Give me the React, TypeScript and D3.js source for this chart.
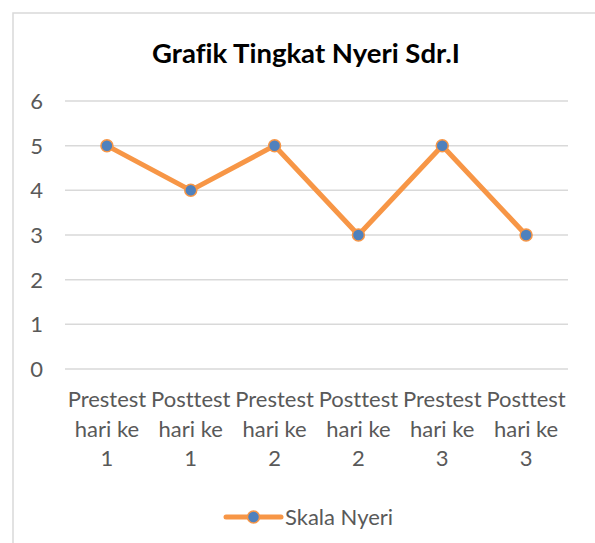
import { line, scaleLinear, scalePoint } from 'd3'

const categories = [
  'Prestest hari ke 1',
  'Posttest hari ke 1',
  'Prestest hari ke 2',
  'Posttest hari ke 2',
  'Prestest hari ke 3',
  'Posttest hari ke 3',
]

const skalaNyeri = [5, 4, 5, 3, 5, 3]

const yTicks = [0, 1, 2, 3, 4, 5, 6]

const chartTitle = 'Grafik Tingkat Nyeri Sdr.I'
const seriesName = 'Skala Nyeri'

const width = 595
const height = 543

const plot = {
  left: 65,
  right: 568,
  top: 101,
  bottom: 369,
}

const fontFamily = 'Lato, Calibri, Carlito, sans-serif'
const textColor = '#595959'
const gridColor = '#d9d9d9'
const lineColor = '#f79646'
const markerColor = '#4f81bd'

// "Prestest hari ke 1" -> ["Prestest", "hari ke", "1"]
function splitLabel(label: string) {
  const words = label.split(' ')
  return [words[0], words.slice(1, -1).join(' '), words[words.length - 1]]
}

function App() {
  const xScale = scalePoint<string>()
    .domain(categories)
    .range([plot.left, plot.right])
    .padding(0.5)

  const yScale = scaleLinear().domain([0, 6]).range([plot.bottom, plot.top])

  const points = categories.map((category, i) => ({
    category,
    value: skalaNyeri[i],
  }))

  const linePath = line<{ category: string; value: number }>()
    .x((d) => xScale(d.category) ?? 0)
    .y((d) => yScale(d.value))(points)

  const legendX = 226
  const legendY = 517

  return (
    <svg
      width={width}
      height={height}
      viewBox={`0 0 ${width} ${height}`}
      style={{
        position: 'absolute',
        left: 0,
        top: 0,
        background: '#fff',
        fontVariantLigatures: 'none',
      }}
      fontFamily={fontFamily}
    >
      <rect x={0} y={0} width={width} height={height} fill="#fff" />
      <rect
        x={13}
        y={13}
        width={width + 20}
        height={height + 20}
        fill="#fff"
        stroke={gridColor}
        strokeWidth={1.5}
      />

      <text
        x={306}
        y={63}
        textAnchor="middle"
        fontSize={27.5}
        fontWeight={700}
        fill="#000"
      >
        {chartTitle}
      </text>

      {yTicks.map((tick) => (
        <line
          key={`grid-${tick}`}
          x1={plot.left}
          x2={plot.right}
          y1={yScale(tick)}
          y2={yScale(tick)}
          stroke={gridColor}
          strokeWidth={1.5}
        />
      ))}

      {yTicks.map((tick) => (
        <text
          key={`tick-${tick}`}
          x={43}
          y={yScale(tick)}
          dy="0.36em"
          textAnchor="end"
          fontSize={22}
          fill={textColor}
        >
          {tick}
        </text>
      ))}

      {categories.map((category) => {
        const x = xScale(category) ?? 0
        return (
          <text
            key={category}
            x={x}
            y={407}
            textAnchor="middle"
            fontSize={22}
            fill={textColor}
          >
            {splitLabel(category).map((part, i) => (
              <tspan key={i} x={x} dy={i === 0 ? 0 : 29.5}>
                {part}
              </tspan>
            ))}
          </text>
        )
      })}

      <path
        d={linePath ?? ''}
        fill="none"
        stroke={lineColor}
        strokeWidth={5}
        strokeLinejoin="round"
        strokeLinecap="round"
      />

      {points.map((d) => (
        <circle
          key={`pt-${d.category}`}
          cx={xScale(d.category) ?? 0}
          cy={yScale(d.value)}
          r={6}
          fill={markerColor}
          stroke={lineColor}
          strokeWidth={1.5}
        />
      ))}

      <line
        x1={legendX}
        x2={legendX + 55}
        y1={legendY}
        y2={legendY}
        stroke={lineColor}
        strokeWidth={5}
        strokeLinecap="round"
      />
      <circle
        cx={legendX + 27.5}
        cy={legendY}
        r={6}
        fill={markerColor}
        stroke={lineColor}
        strokeWidth={1.5}
      />
      <text
        x={legendX + 59}
        y={legendY}
        dy="0.36em"
        fontSize={22}
        fill={textColor}
      >
        {seriesName}
      </text>
    </svg>
  )
}

export default App
